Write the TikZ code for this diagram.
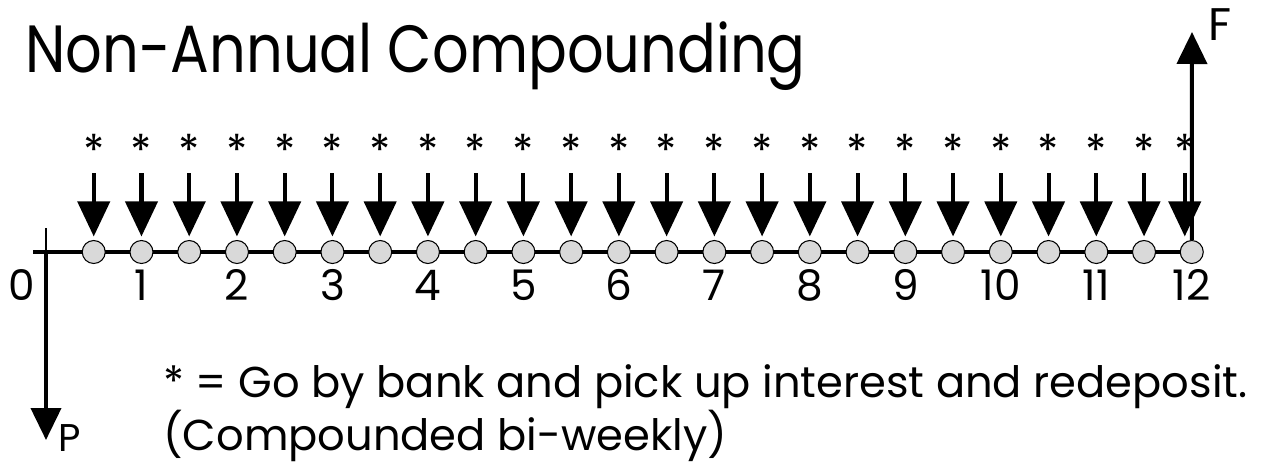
\documentclass[tikz,border=0pt]{standalone}
\usepackage{fontspec}
\setmainfont{Poppins}
\newfontfamily\titlefont[FakeStretch=0.86]{Poppins}
\usetikzlibrary{arrows.meta}

\begin{document}
\begin{tikzpicture}[x=0.02cm, y=-0.02cm,
    period/.style={circle, draw, line width=0.6pt, fill=gray!30, minimum size=0.46cm, inner sep=0pt},
    cashin/.style={line width=2.3pt, -{Triangle[length=0.7cm, width=0.64cm]}, shorten >=2pt},
    cashflow/.style={line width=2.3pt, -{Triangle[length=0.64cm, width=0.6cm]}},
    bigtext/.style={font=\titlefont\fontsize{38}{42}\selectfont, inner sep=0pt},
    yearlabel/.style={font=\fontsize{24}{28}\selectfont, inner sep=0pt},
    notetext/.style={font=\fontsize{24.6}{28}\selectfont, inner sep=0pt},
    interest/.style={font=\fontsize{25}{28}\selectfont, inner sep=0pt}]
		\useasboundingbox (0,0) rectangle (1264,464);

		\node[bigtext, anchor=base west] (title) at (25,72) {Non-Annual Compounding};

		% time line
		\coordinate (start) at (33,252);
		\coordinate (origin) at (46,252);
		\coordinate (tick) at (46,228);
		\coordinate (P) at (46,440);
		\coordinate (F) at (1192,32);
		\draw[line width=2.3pt] (start) -- (1192,252);
		\draw[line width=0.8pt] (tick) -- (origin);
		\draw[cashflow] (origin) -- (P);

		\foreach \i in {1,...,24} {
			\node[period] (c\i) at (46+47.74*\i,252) {};
		}
		\draw[cashflow] (c24.north) -- (F);
		\foreach \i in {1,...,24} {
			\pgfmathsetmacro{\dx}{\i==24 ? -7 : 0}
			\node[interest, anchor=base] (s\i) at (46+47.74*\i+\dx,166) {*};
			\draw[cashin] ([yshift=-0.14cm]s\i.south) -- ([xshift=\dx*0.02cm]c\i.north);
		}

		% years
		\node[yearlabel] (y0) at (22,285) {0};
		\foreach \y in {1,...,12} {
			\node[yearlabel] (y\y) at (46+95.48*\y,285) {\y};
		}

		\node[yearlabel, anchor=north west, font=\fontsize{26}{28}\selectfont] (Flabel) at (1208,8) {F};
		\node[yearlabel, anchor=base west, font=\fontsize{22}{24}\selectfont] (Plabel) at (58,451) {P};

		\node[notetext, anchor=base west] (note) at (163,397) {* = Go by bank and pick up interest and redeposit.};
		\node[notetext, anchor=base west] (note2) at (163,450) {(Compounded bi-weekly)};
	\end{tikzpicture}
\end{document}
